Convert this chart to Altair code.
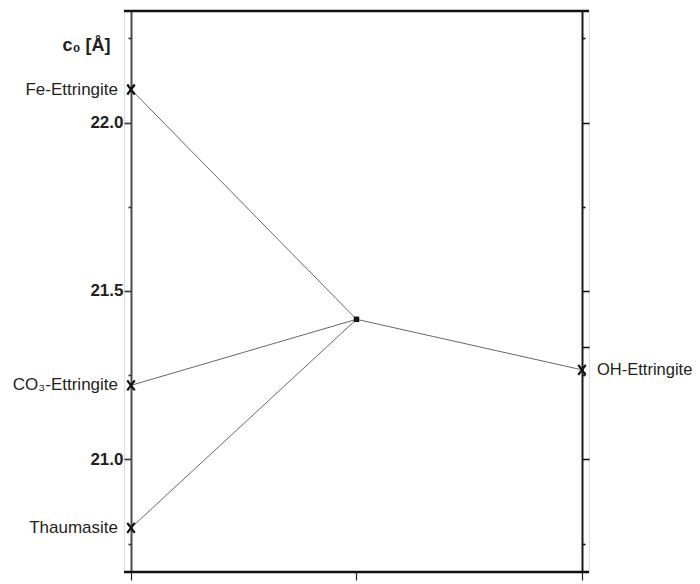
import altair as alt
import pandas as pd

# ---- data ----
names = ["Fe-Ettringite", "CO₃-Ettringite", "Thaumasite", "OH-Ettringite"]
side = [0.0, 0.0, 0.0, 1.0]
c0 = [22.098, 21.220, 20.797, 21.266]
center_x = 0.5
center_c0 = 21.416

y_major = [21.0, 21.5, 22.0]
y_minor = [20.75, 21.25, 21.75, 22.25]
right_major = [21.0, 21.334, 21.5, 22.0]
x_ticks = [0.0, 0.5, 1.0]
y_domain = [20.666, 22.331]
ext = 7 / 451
x_domain = [-ext, 1 + ext]

FONT = "Liberation Sans"
TXT = "#231f20"

outer = pd.DataFrame({"name": names, "x": side, "c0": c0})
lines = pd.DataFrame({
    "name": names + names,
    "x": side + [center_x] * len(names),
    "c0": c0 + [center_c0] * len(names),
})
center = pd.DataFrame({"x": [center_x], "c0": [center_c0]})
left_lab = outer[outer["x"] == 0]
right_lab = outer[outer["x"] == 1]
frame = pd.DataFrame({"x": [x_domain[0]] * 2, "x2": [x_domain[1]] * 2, "c0": y_domain})

xs = alt.Scale(domain=x_domain, nice=False, zero=False)
ys = alt.Scale(domain=y_domain, nice=False, zero=False)

def X(axis):
    return alt.X("x:Q", scale=xs, axis=axis)

def Y(axis):
    return alt.Y("c0:Q", scale=ys, axis=axis)

ax_bottom = alt.Axis(orient="bottom", values=x_ticks, labels=False, title=None,
                     grid=False, domain=False, tickSize=8, tickColor="#222",
                     tickWidth=1.2)
ax_left_major = alt.Axis(orient="left", values=y_major, format=".1f", grid=False,
                         offset=-7, tickSize=7, tickWidth=1.6, tickColor="#333",
                         domainColor="#4a4a4a", domainWidth=2,
                         labelFont=FONT, labelFontSize=17, labelFontWeight="bold",
                         labelColor=TXT, labelPadding=1,
                         title="c₀ [Å]", titleAngle=0, titleAlign="right",
                         titleBaseline="alphabetic", titleX=-21, titleY=39,
                         titleFont=FONT, titleFontSize=18, titleFontWeight="bold",
                         titleColor=TXT)
ax_left_minor = alt.Axis(orient="left", values=y_minor, labels=False, title=None,
                         grid=False, domain=False, offset=-7, tickSize=3,
                         tickWidth=1.6, tickColor="#333")
ax_right_major = alt.Axis(orient="right", values=right_major, labels=False, title=None,
                          grid=False, offset=-7, tickSize=7, tickWidth=1.6,
                          tickColor="#111", domainColor="#1a1a1a", domainWidth=2)
ax_right_minor = alt.Axis(orient="right", values=y_minor, labels=False, title=None,
                          grid=False, domain=False, offset=-7, tickSize=3,
                          tickWidth=1.6, tickColor="#111")

frame_layer = alt.Chart(frame).mark_rule(color="#111", strokeWidth=2.4).encode(
    x=X(None), x2="x2:Q", y=Y(None))

line_layer = alt.Chart(lines).mark_line(color="#555", strokeWidth=0.9).encode(
    x=X(ax_bottom), y=Y(ax_left_major), detail="name:N")

xpath = "M-0.75,-1L0.75,1M0.75,-1L-0.75,1"
outer_layer = alt.Chart(outer).mark_point(shape=xpath, size=100, filled=False,
                                          stroke="#111", strokeWidth=2.2, opacity=1).encode(
    x=X(None), y=Y(ax_left_minor))

center_layer = alt.Chart(center).mark_point(shape="square", size=30, filled=True,
                                            color="#111", opacity=1).encode(
    x=X(None), y=Y(ax_right_major))

left_text = alt.Chart(left_lab).mark_text(align="right", baseline="middle", dx=-13,
                                          font=FONT, fontSize=17, color=TXT).encode(
    x=X(None), y=Y(ax_right_minor), text="name:N")

right_text = alt.Chart(right_lab).mark_text(align="left", baseline="middle", dx=15,
                                            font=FONT, fontSize=16.5, color=TXT).encode(
    x=X(None), y=Y(None), text="name:N")

chart = alt.layer(frame_layer, line_layer, outer_layer, center_layer, left_text,
                  right_text).resolve_axis(
    x="independent", y="independent"
).properties(
    width=465, height=561,
    autosize=alt.AutoSizeParams(type="none"),
    padding={"left": 116, "top": 3, "right": 103, "bottom": 10},
).configure_view(stroke="transparent", strokeWidth=0).configure(background="white")

chart.save("out.html", embed_options={"renderer": "svg", "actions": False})
